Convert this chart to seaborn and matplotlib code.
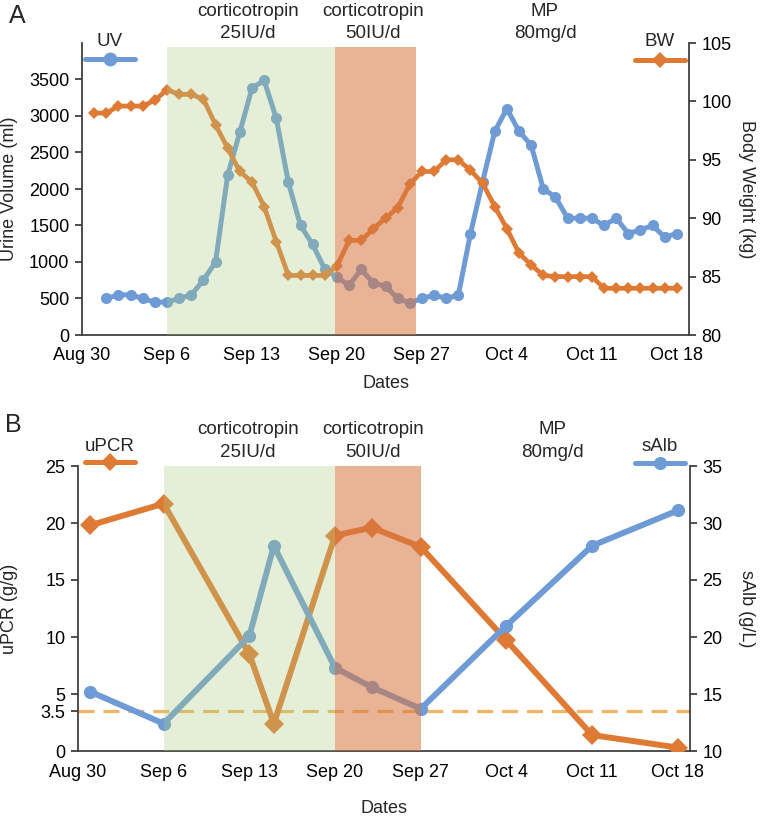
import numpy as np
import pandas as pd
import matplotlib
matplotlib.use("Agg")
import matplotlib.pyplot as plt
import seaborn as sns
from matplotlib.lines import Line2D

sns.set_theme(style="white")
plt.rcParams['font.family'] = ['Liberation Sans', 'DejaVu Sans']

# ---------------- data ----------------
uv_start = "2015-09-01"
uv_values = [500, 550, 550, 500, 450, 450, 500, 550, 750, 1000,
             2190, 2780, 3380, 3490, 2970, 2090, 1500, 1240, 900,
             790, 680, 900, 710, 670, 500, 440, 500, 545, 500, 545,
             1390, 2100, 2790, 3100, 2790, 2600, 2000, 1890, 1600, 1600,
             1600, 1500, 1600, 1390, 1440, 1500, 1340, 1390]
bw_start = "2015-08-31"
bw_values = [99.0, 99.0, 99.6, 99.6, 99.6, 100.1, 101.0, 100.6, 100.6, 100.2,
             98.0, 96.0, 94.0, 93.1, 91.0, 88.0, 85.1, 85.1, 85.1, 85.1,
             85.9, 88.1, 88.1, 89.1, 90.0, 90.9, 92.9, 94.0, 94.0, 95.0, 95.0,
             94.1, 93.0, 91.0, 89.1, 87.0, 86.0, 85.1, 85.0, 85.0, 85.0, 85.0,
             84, 84, 84, 84, 84, 84, 84]

lab_dates = ["2015-08-31", "2015-09-06", "2015-09-13", "2015-09-15", "2015-09-20",
             "2015-09-23", "2015-09-27", "2015-10-04", "2015-10-11", "2015-10-18"]
upcr_values = [19.8, 21.7, 8.5, 2.4, 18.9, 19.6, 17.9, 9.7, 1.4, 0.3]
salb_values = [15.2, 12.4, 20.1, 28.0, 17.3, 15.6, 13.7, 21.0, 28.0, 31.1]

tick_dates = ["2015-08-30", "2015-09-06", "2015-09-13", "2015-09-20",
              "2015-09-27", "2015-10-04", "2015-10-11", "2015-10-18"]
tick_labels = ["Aug 30", "Sep 6", "Sep 13", "Sep 20", "Sep 27", "Oct 4", "Oct 11", "Oct 18"]
uv_ticks = [0, 500, 1000, 1500, 2000, 2500, 3000, 3500]
bw_ticks = [80, 85, 90, 95, 100, 105]
upcr_ticks = [0, 3.5, 5, 10, 15, 20, 25]
salb_ticks = [10, 15, 20, 25, 30, 35]

uv_df = pd.DataFrame({"date": pd.date_range(uv_start, periods=len(uv_values)), "UV": uv_values})
bw_df = pd.DataFrame({"date": pd.date_range(bw_start, periods=len(bw_values)), "BW": bw_values})
lab_df = pd.DataFrame({"date": pd.to_datetime(lab_dates), "uPCR": upcr_values, "sAlb": salb_values})
ticks = pd.to_datetime(tick_dates)

BLUE = "#6e9bd6"
ORANGE = "#df7a35"
GREEN_SPAN = "#aece7e"
ORANGE_SPAN = "#d77640"
SPINE = "#404040"
FS = 13
FS_ANN = 13.5

W, H = 762, 821
fig = plt.figure(figsize=(W / 100, H / 100), dpi=100)


def fx(px):
    return px / W


def fy(py):
    return 1 - py / H


def style_axes(ax, side):
    for s in ["top", "left", "right", "bottom"]:
        ax.spines[s].set_visible(False)
    if side == "left":
        ax.spines["left"].set_visible(True)
        ax.spines["bottom"].set_visible(True)
    else:
        ax.spines["right"].set_visible(True)
    for s in ax.spines.values():
        s.set_color(SPINE)
        s.set_linewidth(1.3)
    ax.tick_params(axis="both", which="both", direction="out", length=5, width=1.3,
                   color=SPINE, labelsize=FS, labelcolor="black", pad=4)
    ax.grid(False)


xlim = (pd.Timestamp("2015-08-30"), pd.Timestamp("2015-10-19"))

# ---------------- panel A ----------------
axA = fig.add_axes([fx(82), fy(335), fx(689) - fx(82), fy(43) - fy(335)])
axA2 = axA.twinx()
sns.lineplot(data=uv_df, x="date", y="UV", ax=axA, color=BLUE, linewidth=3.6,
             marker="o", markersize=8, markeredgewidth=0)
sns.lineplot(data=bw_df, x="date", y="BW", ax=axA2, color=ORANGE, linewidth=3.4,
             marker="D", markersize=6, markeredgewidth=0)
axA.set_xlim(*xlim)
axA.set_ylim(0, 4000)
axA.set_yticks(uv_ticks)
axA2.set_ylim(80, 105)
axA2.set_yticks(bw_ticks)
axA.set_xticks(ticks)
axA.set_xticklabels(tick_labels)
style_axes(axA, "left")
style_axes(axA2, "right")
axA.set_ylabel("Urine Volume (ml)", fontsize=FS)
axA.yaxis.set_label_coords((18 - 82) / 607, 0.5)
axA2.set_ylabel("Body Weight (kg)", fontsize=FS, rotation=270, va="center")
axA2.yaxis.set_label_coords((747 - 82) / 607, 0.5)
axA.set_xlabel("Dates", fontsize=FS, va="center")
axA.xaxis.set_label_coords(0.5, (335 - 384) / 292)
axA2.axvspan(pd.Timestamp("2015-09-06"), pd.Timestamp("2015-09-19 20:00"), ymax=0.985,
             color=GREEN_SPAN, alpha=0.31, lw=0, zorder=5)
axA2.axvspan(pd.Timestamp("2015-09-19 20:00"), pd.Timestamp("2015-09-26 12:00"), ymax=0.985,
             color=ORANGE_SPAN, alpha=0.55, lw=0, zorder=5)

# ---------------- panel B ----------------
axB = fig.add_axes([fx(78), fy(751), fx(690) - fx(78), fy(466) - fy(751)])
axB2 = axB.twinx()
axB.axhline(3.5, color="#f0b464", lw=2.3, dashes=(5, 2.8), zorder=1)
sns.lineplot(data=lab_df, x="date", y="uPCR", ax=axB, color=ORANGE, linewidth=4.3,
             marker="D", markersize=10.5, markeredgewidth=0, zorder=3)
sns.lineplot(data=lab_df, x="date", y="sAlb", ax=axB2, color=BLUE, linewidth=4.3,
             marker="o", markersize=9.5, markeredgewidth=0)
axB.set_xlim(*xlim)
axB.set_ylim(0, 25)
axB.set_yticks(upcr_ticks)
axB.set_yticklabels(["0", "3.5", "5", "10", "15", "20", "25"])
axB2.set_ylim(10, 35)
axB2.set_yticks(salb_ticks)
axB.set_xticks(ticks)
axB.set_xticklabels(tick_labels)
style_axes(axB, "left")
style_axes(axB2, "right")
axB.set_ylabel("uPCR (g/g)", fontsize=FS)
axB.yaxis.set_label_coords((18 - 78) / 612, 0.5)
axB2.set_ylabel("sAlb (g/L)", fontsize=FS, rotation=270, va="center")
axB2.yaxis.set_label_coords((747 - 78) / 612, 0.5)
axB.set_xlabel("Dates", fontsize=FS, va="center")
axB.xaxis.set_label_coords(0.5, (751 - 808) / 285)
axB2.axvspan(pd.Timestamp("2015-09-06"), pd.Timestamp("2015-09-20"),
             color=GREEN_SPAN, alpha=0.31, lw=0, zorder=5)
axB2.axvspan(pd.Timestamp("2015-09-20"), pd.Timestamp("2015-09-27"),
             color=ORANGE_SPAN, alpha=0.55, lw=0, zorder=5)

# ---------------- annotations ----------------
def ftext(px, py, s, size=FS_ANN, **kw):
    fig.text(fx(px), fy(py), s, fontsize=size, ha="center", va="center", **kw)

ftext(17, 16, "A", size=18)
ftext(13, 425, "B", size=18)
for (x, y1, y2, a, b) in [(248, 11, 34, "corticotropin", "25IU/d"),
                          (373, 11, 34, "corticotropin", "50IU/d"),
                          (545, 11, 34, "MP", "80mg/d"),
                          (248, 429, 452, "corticotropin", "25IU/d"),
                          (373, 429, 452, "corticotropin", "50IU/d"),
                          (552, 429, 452, "MP", "80mg/d")]:
    ftext(x, y1, a)
    ftext(x, y2, b)

# legend-like keys
def key(x0, x1, y, color, marker, ms, lw, label, ly):
    fig.add_artist(Line2D([fx(x0), fx(x1)], [fy(y), fy(y)], color=color, lw=lw,
                          transform=fig.transFigure))
    fig.add_artist(Line2D([fx((x0 + x1) / 2)], [fy(y)], color=color, marker=marker,
                          markersize=ms, markeredgewidth=0, lw=0, transform=fig.transFigure))
    ftext((x0 + x1) / 2, ly, label)

key(85, 135, 59, BLUE, "o", 10, 3.6, "UV", 41)
key(635, 685, 60, ORANGE, "D", 8, 3.6, "BW", 42)
key(85, 135, 462, ORANGE, "D", 9, 3.6, "uPCR", 446)
key(635, 685, 463, BLUE, "o", 9.5, 3.6, "sAlb", 446)

fig.savefig("out.png", dpi=100)
